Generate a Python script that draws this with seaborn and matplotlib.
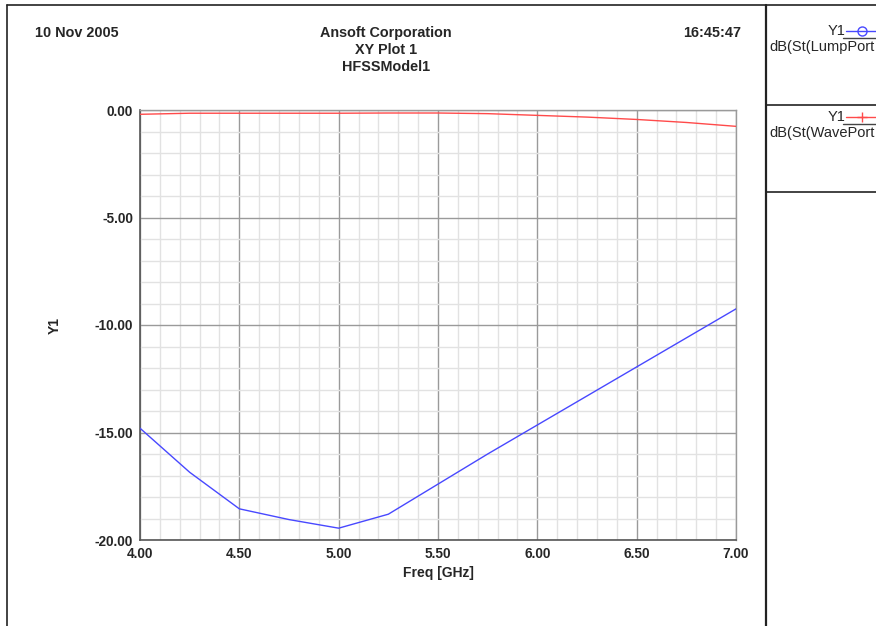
import numpy as np
import pandas as pd
import matplotlib
matplotlib.use("Agg")
import matplotlib.pyplot as plt
import seaborn as sns
from matplotlib.ticker import MultipleLocator, FormatStrFormatter
from matplotlib.lines import Line2D

freq = [4.00, 4.25, 4.50, 4.75, 5.00, 5.25, 5.50, 5.75, 6.00, 6.25, 6.50, 6.75, 7.00]
lump_db = [-14.80, -16.85, -18.55, -19.05, -19.45, -18.80, -17.40, -16.00, -14.65, -13.30, -11.95, -10.60, -9.25]
wave_db = [-0.20, -0.15, -0.15, -0.15, -0.15, -0.14, -0.14, -0.17, -0.25, -0.33, -0.44, -0.58, -0.76]
series_names = ["dB(St(LumpPort", "dB(St(WavePort"]
series_colors = ["#4848ff", "#ff4a4a"]
x_ticks = [4.0, 4.5, 5.0, 5.5, 6.0, 6.5, 7.0]
y_ticks = [0.0, -5.0, -10.0, -15.0, -20.0]

sns.set_style("white")
plt.rcParams['font.family'] = ['Liberation Sans', 'DejaVu Sans']

W, H = 876, 626
fig = plt.figure(figsize=(W / 100, H / 100), dpi=100)

def fx(px):
    return px / W

def fy(py):
    return 1 - py / H

ax = fig.add_axes([fx(140), fy(540), fx(736) - fx(140), fy(110) - fy(540)])

df = pd.DataFrame({
    "freq": freq * 2,
    "db": lump_db + wave_db,
    "series": [series_names[0]] * len(freq) + [series_names[1]] * len(freq),
})
sns.lineplot(data=df, x="freq", y="db", hue="series", palette=series_colors,
             linewidth=1.0, ax=ax, legend=False, zorder=5)

ax.set_xlim(4.0, 7.0)
ax.set_ylim(-20.0, 0.0)
ax.xaxis.set_major_locator(MultipleLocator(0.5))
ax.xaxis.set_minor_locator(MultipleLocator(0.1))
ax.yaxis.set_major_locator(MultipleLocator(5))
ax.yaxis.set_minor_locator(MultipleLocator(1))
ax.set_xticks(x_ticks)
ax.set_yticks(y_ticks)
ax.xaxis.set_major_formatter(FormatStrFormatter("%.2f"))
ax.yaxis.set_major_formatter(FormatStrFormatter("%.2f"))

ax.grid(which="major", color="#9a9a9a", linewidth=1.0, zorder=1)
ax.grid(which="minor", color="#e2e2e2", linewidth=1.0, zorder=0)
ax.set_axisbelow(True)

ax.tick_params(axis="both", which="major", direction="out", length=4, width=1,
               color="#555555", labelsize=9.8, pad=1)
ax.tick_params(axis="both", which="minor", direction="out", length=3, width=1,
               color="#777777")
for lbl in ax.get_xticklabels() + ax.get_yticklabels():
    lbl.set_fontweight("bold")

for side in ["left", "bottom"]:
    ax.spines[side].set_color("#555555")
    ax.spines[side].set_linewidth(1.2)
for side in ["top", "right"]:
    ax.spines[side].set_color("#9a9a9a")
    ax.spines[side].set_linewidth(1.0)

ax.set_xlabel("Freq [GHz]", fontsize=10, fontweight="bold", labelpad=4)
ax.set_ylabel("Y1", fontsize=10, fontweight="bold")
ax.yaxis.set_label_coords((62 - 140) / 596, 0.5)

# Header texts
fig.text(fx(35), fy(33), "10 Nov 2005", fontsize=10.4, fontweight="bold", va="center", ha="left")
fig.text(fx(386), fy(33), "Ansoft Corporation", fontsize=10.4, fontweight="bold", va="center", ha="center")
fig.text(fx(386), fy(50), "XY Plot 1", fontsize=10.4, fontweight="bold", va="center", ha="center")
fig.text(fx(386), fy(67), "HFSSModel1", fontsize=10.4, fontweight="bold", va="center", ha="center")
fig.text(fx(741), fy(33), "16:45:47", fontsize=10.4, fontweight="bold", va="center", ha="right")

# Frame lines
def fline(x0, y0, x1, y1, color="#222222", lw=1.2):
    fig.add_artist(Line2D([fx(x0), fx(x1)], [fy(y0), fy(y1)], color=color, linewidth=lw,
                          transform=fig.transFigure))

fline(7, 5, 876, 5)
fline(7, 5, 7, 626)
fline(766, 5, 766, 626, lw=1.6)
fline(766, 105, 876, 105)
fline(766, 192, 876, 192)

# Legend entries
legend_y = [31, 117]
markers = ["o", "+"]
for i, (name, col, mk) in enumerate(zip(series_names, series_colors, markers)):
    y0 = legend_y[i]
    fig.text(fx(845), fy(y0), "Y1", fontsize=10.5, va="center", ha="right")
    fig.add_artist(Line2D([fx(846), fx(876)], [fy(y0), fy(y0)], color=col, linewidth=1.0,
                          transform=fig.transFigure))
    fig.add_artist(Line2D([fx(862)], [fy(y0)], color=col, marker=mk, markersize=6.5,
                          markerfacecolor="none", markeredgewidth=1.0, linestyle="none",
                          transform=fig.transFigure))
    fline(843, y0 + 7, 876, y0 + 7, color="#444444", lw=1.0)
    fig.text(fx(769), fy(y0 + 16), name, fontsize=10.5, va="center", ha="left")

fig.savefig("out.png", dpi=100)
